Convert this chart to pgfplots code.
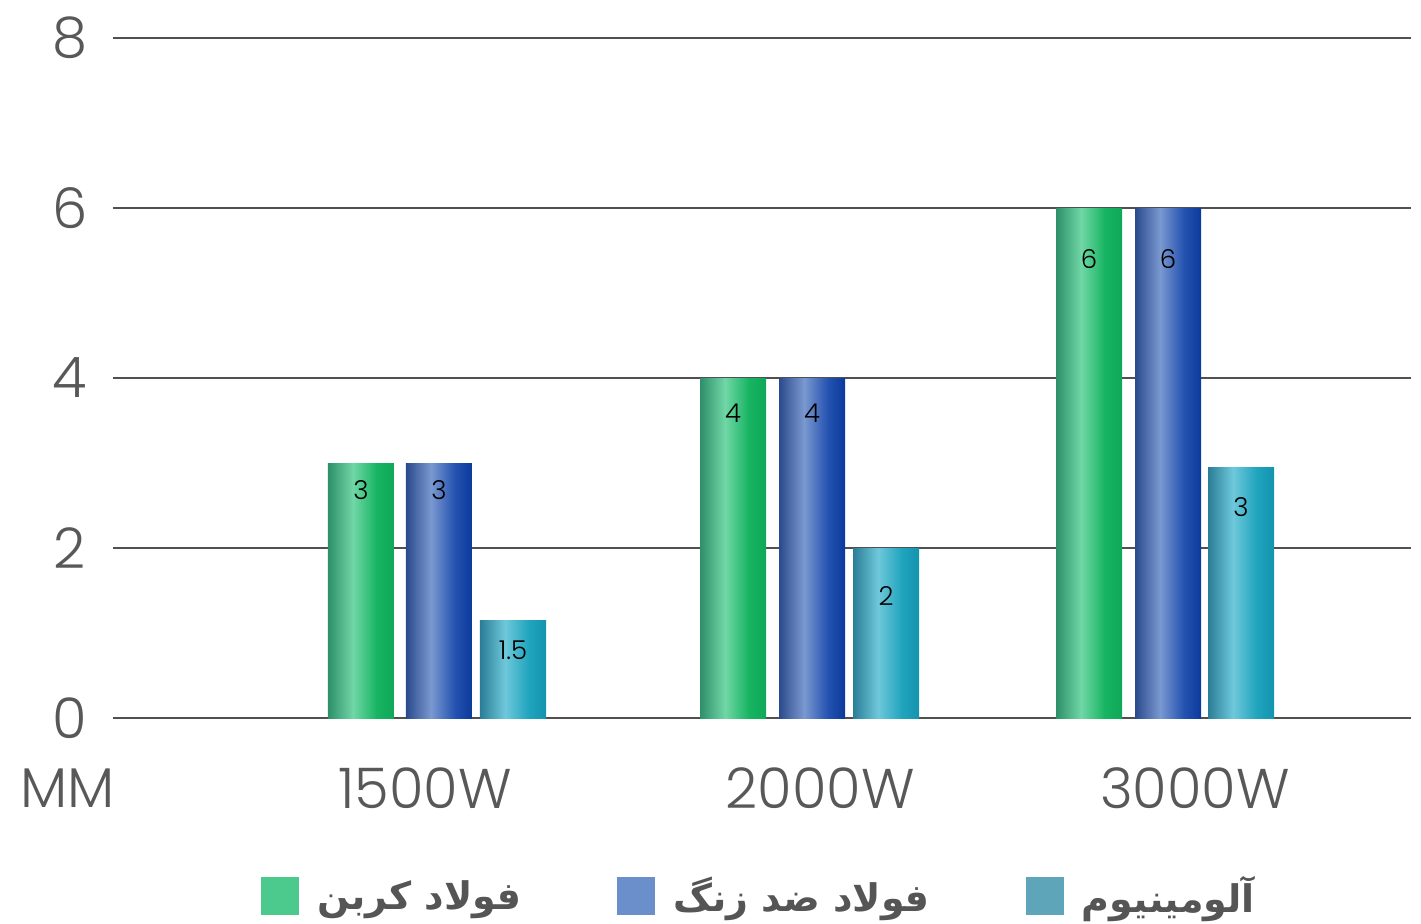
\documentclass[border=0pt]{standalone}
\usepackage{pgfplots}
\pgfplotsset{compat=1.18}
\usepackage{fontspec}
\setmainfont{Poppins}
\newfontfamily\tickfont{Poppins Light}
\TeXXeTstate=1
\newfontfamily\arabicfont[Script=Arabic]{DejaVu Sans}
\definecolor{gridc}{HTML}{505050}
\definecolor{txt}{HTML}{585858}
\definecolor{legtxt}{HTML}{555555}
\definecolor{legGreen}{HTML}{4CC98D}
\definecolor{legBlue}{HTML}{6A8FCB}
\definecolor{legTeal}{HTML}{5FA5B9}
\definecolor{g1}{HTML}{2E8F6A}
\definecolor{g2}{HTML}{70D7A6}
\definecolor{g3}{HTML}{17B462}
\definecolor{g4}{HTML}{0FA858}
\definecolor{b1}{HTML}{2B4A8C}
\definecolor{b2}{HTML}{7A99D0}
\definecolor{b3}{HTML}{2452B0}
\definecolor{b4}{HTML}{0A3A9C}
\definecolor{t1}{HTML}{2A7D96}
\definecolor{t2}{HTML}{6EC8DA}
\definecolor{t3}{HTML}{20A4BE}
\definecolor{t4}{HTML}{1493AD}
\pgfdeclarehorizontalshading{cylgreen}{100bp}{color(0bp)=(g1); color(25bp)=(g1); color(44bp)=(g2); color(62bp)=(g3); color(75bp)=(g4); color(100bp)=(g4)}
\pgfdeclarehorizontalshading{cylblue}{100bp}{color(0bp)=(b1); color(25bp)=(b1); color(44bp)=(b2); color(62bp)=(b3); color(75bp)=(b4); color(100bp)=(b4)}
\pgfdeclarehorizontalshading{cylteal}{100bp}{color(0bp)=(t1); color(25bp)=(t1); color(44bp)=(t2); color(62bp)=(t3); color(75bp)=(t4); color(100bp)=(t4)}

\pgfplotstableread{
x y l
361 2.68 3
439 2.68 3
513 0.80 1.5
733 3.59 4
812 3.59 4
886 1.43 2
1089 5.40 6
1168 5.40 6
1241 2.48 3
}\labels

\pgfplotsset{cyl/.style={ybar, bar width=66, bar shift=0pt, draw=none, shade, shading=#1, forget plot}}

\begin{document}
\begin{tikzpicture}
\path[use as bounding box] (-56.5pt,-102.5pt) rectangle (654pt,359pt);
\begin{axis}[
  at={(0pt,0pt)}, anchor=south west,
  scale only axis, width=649pt, height=340pt,
  xmin=113, xmax=1411, ymin=0, ymax=8,
  ytick={0,2,4,6,8},
  xtick={425,820,1195},
  xticklabels={1500W,2000W,3000W},
  /pgf/number format/assume math mode=true,
  axis line style={draw=none},
  tick style={draw=none},
  ymajorgrids,
  grid style={color=gridc, line width=1pt},
  clip=false,
  ticklabel style={font=\tickfont\fontsize{28}{30}\selectfont, text=txt},
  yticklabel style={anchor=center, xshift=-21.5pt},
  xticklabel style={anchor=center, yshift=-35pt},
  legend image code/.code={\fill[#1] (0pt,-9.5pt) rectangle (19pt,9.5pt);},
  legend style={draw=none, fill=none, at={(0.5,-0.262)}, anchor=center,
    legend columns=3, font=\arabicfont\bfseries\fontsize{19}{23}\selectfont,
    text=legtxt,
    /tikz/every odd column/.append style={column sep=5pt},
    /tikz/every even column/.append style={column sep=44pt},
    nodes={inner sep=4pt}},
]
% carbon steel (green)
\addplot[cyl=cylgreen] coordinates {(361,3)};
\addplot[cyl=cylgreen] coordinates {(733,4)};
\addplot[cyl=cylgreen] coordinates {(1089,6)};
% stainless steel (blue)
\addplot[cyl=cylblue] coordinates {(439,3)};
\addplot[cyl=cylblue] coordinates {(812,4)};
\addplot[cyl=cylblue] coordinates {(1168,6)};
% aluminium (teal)
\addplot[cyl=cylteal] coordinates {(513,1.15)};
\addplot[cyl=cylteal] coordinates {(886,2)};
\addplot[cyl=cylteal] coordinates {(1241,2.95)};
\addplot[draw=none, mark=none, forget plot, nodes near coords, point meta=explicit symbolic,
  every node near coord/.style={anchor=center, font=\tickfont\fontsize{13}{15}\selectfont, text=black}]
  table[x=x,y=y,meta=l] {\labels};
\addlegendimage{fill=legGreen, draw=none}
\addlegendentry{\beginR فولاد کربن\endR}
\addlegendimage{fill=legBlue, draw=none}
\addlegendentry{\beginR فولاد ضد زنگ\endR}
\addlegendimage{fill=legTeal, draw=none}
\addlegendentry{\beginR آلومینیوم\endR}
\node[font=\tickfont\fontsize{28}{30}\selectfont, text=txt, anchor=center] at (axis cs:68,-0.82) {MM};
\end{axis}
\end{tikzpicture}
\end{document}
